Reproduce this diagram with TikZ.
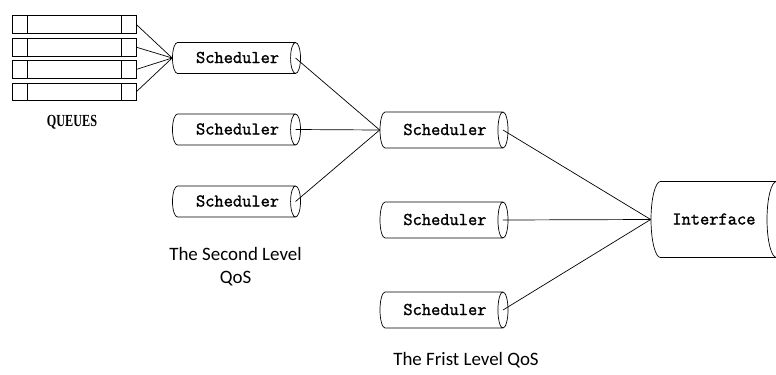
\documentclass[tikz,border=0pt]{standalone}
\usepackage{fontspec}
\setmainfont{Carlito}
\newfontfamily\queuefont{Liberation Serif}
\newfontfamily\schedfont{Latin Modern Mono}[FakeBold=1.6]
\usetikzlibrary{shapes.geometric,calc}

\begin{document}
\begin{tikzpicture}[x=1bp,y=-1bp,line width=0.7bp,
  schedtext/.style={font=\schedfont\fontsize{18}{18}\selectfont,
    text height=11bp,text depth=1bp},
  % a cylinder's "height" runs along its axis, its "width" across it;
  % the end radius follows from the content, so inner ysep sets the thickness
  sched/.style={cylinder,draw,aspect=0.32,minimum height=128bp,
    inner xsep=0pt,inner ysep=9.5bp,anchor=shape center,schedtext,
    execute at begin node={\hspace*{12bp}}},
  schedbig/.style={sched,aspect=0.28,inner ysep=12bp},
  queuebox/.style={draw,rectangle,minimum width=124bp,minimum height=17.5bp,
    inner sep=0pt,
    path picture={
      \draw ([xshift=15bp]path picture bounding box.north west)
         -- ([xshift=15bp]path picture bounding box.south west);
      \draw ([xshift=-15bp]path picture bounding box.north east)
         -- ([xshift=-15bp]path picture bounding box.south east);
    }},
  label/.style={font=\fontsize{19}{23}\selectfont,align=center}
]
\useasboundingbox (0,0) rectangle (776,374);
\clip (0,0) rectangle (776,374);

% queues
\node[queuebox] (q1) at (74,24.5) {};
\node[queuebox] (q2) at (74,47.2) {};
\node[queuebox] (q3) at (74,69.4) {};
\node[queuebox] (q4) at (74,91.7) {};
\node (ql) at (72,122.5)
  {\queuefont\bfseries\fontsize{17}{17}\selectfont\scalebox{0.72}[1]{QUEUES}};

% second level schedulers
\node[sched] (s1) at (236.5,58)  {Scheduler};
\node[sched] (s2) at (236.5,129.5) {Scheduler};
\node[sched] (s3) at (236.5,201.5) {Scheduler};

% first level schedulers
\node[schedbig] (f1) at (444,130) {Scheduler};
\node[schedbig] (f2) at (444,220) {Scheduler};
\node[schedbig] (f3) at (444,310) {Scheduler};

% output interface
\node[cylinder,draw,aspect=0.25,minimum height=135bp,inner xsep=0pt,
  inner ysep=32bp,anchor=shape center,schedtext] (ifc) at (718.5,219.5)
  {\hspace*{10bp}Interface};

% captions
\node[label] (cap2) at (235.5,266.5) {The Second Level\\QoS};
\node[label] (cap1) at (466,360) {The Frist Level QoS};

% ellipse centres of the outgoing ends
\foreach \n in {s1,s2,s3,f1,f2,f3}
  \coordinate (\n o) at ($(\n.before top)!0.5!(\n.after top)$);

% connectors
\foreach \q in {q1,q2,q3,q4}
  \draw (\q.east) -- (s1.west);
\foreach \n in {s1o,s2o,s3o}
  \draw (\n) -- (f1.west);
\foreach \n in {f1o,f2o,f3o}
  \draw (\n) -- (ifc.west);
\end{tikzpicture}
\end{document}
